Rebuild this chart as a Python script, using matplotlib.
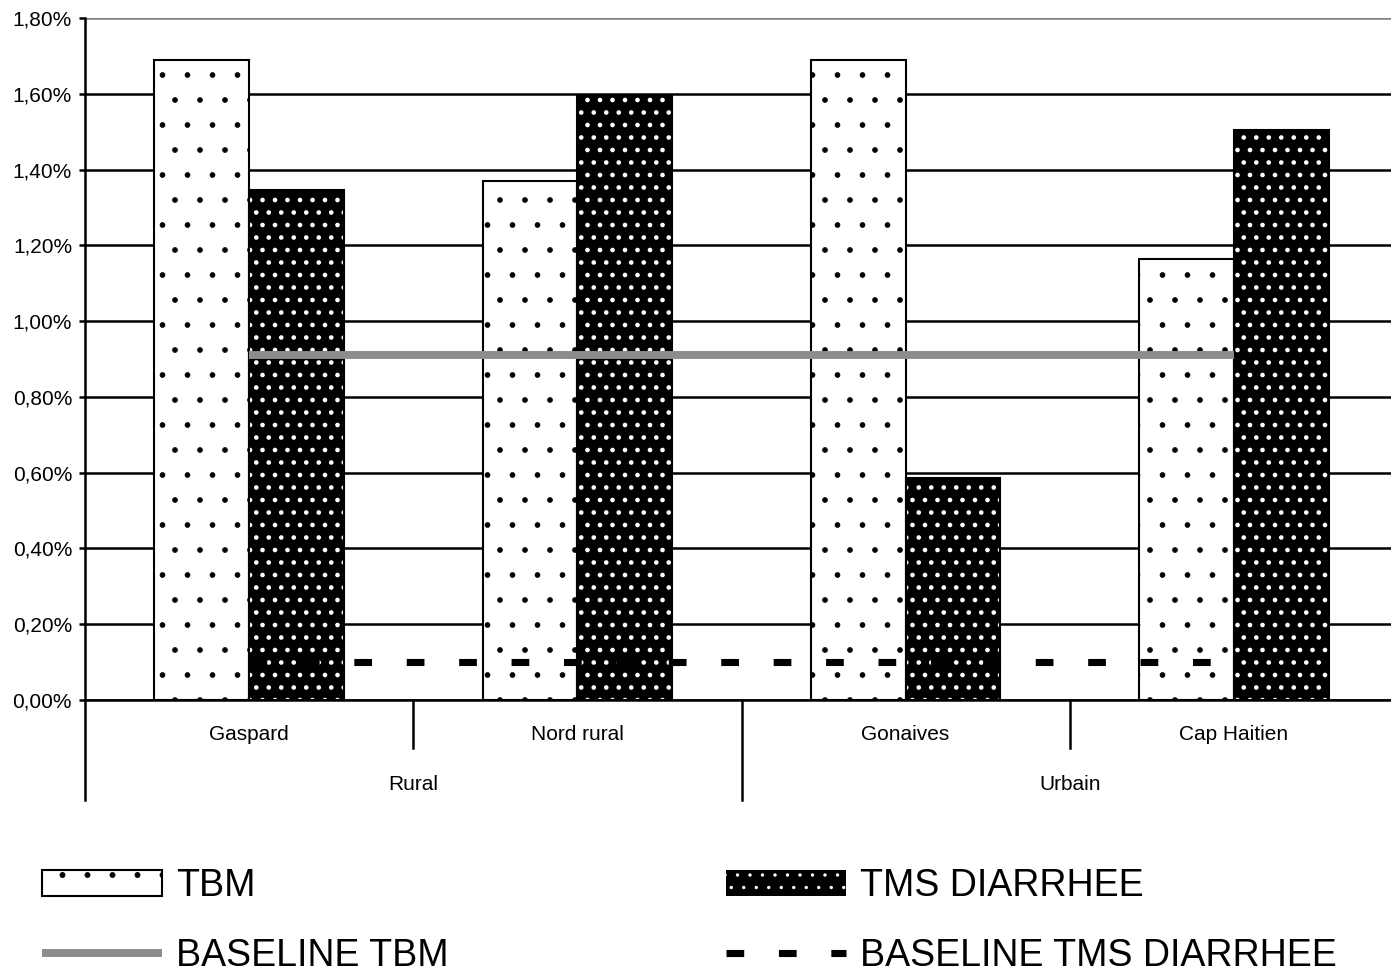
import matplotlib
matplotlib.use('Agg')
import matplotlib.pyplot as plt
import matplotlib.transforms as mtransforms
from matplotlib.patches import Patch
from matplotlib.lines import Line2D
from matplotlib.ticker import FuncFormatter
import numpy as np

plt.rcParams['font.family'] = ['Liberation Sans', 'DejaVu Sans']
plt.rcParams['hatch.linewidth'] = 0.4

# ---------------- data ----------------
categories = ['Gaspard', 'Nord rural', 'Gonaives', 'Cap Haitien']
groups = ['Rural', 'Urbain']
group_sizes = [2, 2]
tbm = [1.69, 1.37, 1.69, 1.165]
tms_diarrhee = [1.345, 1.595, 0.585, 1.505]
baseline_tbm = [0.91, 0.91, 0.91, 0.91]
baseline_tms = [0.10, 0.10, 0.10, 0.10]
yticks = [0.0, 0.2, 0.4, 0.6, 0.8, 1.0, 1.2, 1.4, 1.6, 1.8]
legend_labels = ['TBM', 'TMS DIARRHEE', 'BASELINE TBM', 'BASELINE TMS DIARRHEE']

TBM_HLW = 0.3
TMS_HLW = 1.0


def set_hlw(patches, lw):
    for p in patches:
        if hasattr(p, 'set_hatch_linewidth'):
            p.set_hatch_linewidth(lw)


# ---------------- figure ----------------
W, H, DPI = 1391, 977, 150
fig = plt.figure(figsize=(W / DPI, H / DPI), dpi=DPI)
ax = fig.add_axes([85 / W, 1 - 700 / H, 1313 / W, 682 / H])

x = np.arange(len(categories))
bw = 0.289
with plt.rc_context({'hatch.linewidth': TBM_HLW}):
    b1 = ax.bar(x - bw / 2, tbm, bw, facecolor='white', edgecolor='black',
                hatch='.', linewidth=1.0, zorder=2)
set_hlw(b1, TBM_HLW)
with plt.rc_context({'hatch.linewidth': TMS_HLW}):
    b2 = ax.bar(x + bw / 2, tms_diarrhee, bw, facecolor='black', edgecolor='white',
                hatch='..', linewidth=0, zorder=2)
set_hlw(b2, TMS_HLW)
ax.bar(x + bw / 2, tms_diarrhee, bw, facecolor='none', edgecolor='black',
       linewidth=1.0, zorder=2.1)

btbm_style = dict(color='#8c8c8c', lw=3.8, solid_capstyle='butt')
btms_style = dict(color='black', lw=3.4, ls=(0, (2.5, 4.9)), dash_capstyle='butt')
ax.plot(x, baseline_tbm, zorder=3, **btbm_style)
ax.plot(x, baseline_tms, zorder=3, **btms_style)

ax.set_xlim(-0.5, len(categories) - 0.5)
ax.set_ylim(0, 1.8)
ax.set_yticks(yticks)
ax.yaxis.set_major_formatter(FuncFormatter(lambda v, p: f"{v:.2f}%".replace('.', ',')))
ax.tick_params(axis='y', length=3, width=1.2, direction='out', pad=3.2,
               labelsize=10, colors='black')
ax.set_xticks([])
ax.yaxis.grid(True, color='black', lw=1.2)
ax.set_axisbelow(True)
ax.get_ygridlines()[-1].set_color('#808080')
for s in ['top', 'right']:
    ax.spines[s].set_visible(False)
ax.spines['left'].set_linewidth(1.2)
ax.spines['bottom'].set_linewidth(1.2)

# hierarchical category axis
trans = mtransforms.blended_transform_factory(ax.transData, ax.transAxes)
short_len = 48 / 682
long_len = 100 / 682
group_edges = np.concatenate([[0], np.cumsum(group_sizes)]) - 0.5
for b in np.arange(len(categories) + 1) - 0.5:
    ln = long_len if np.any(np.isclose(group_edges, b)) else short_len
    ax.plot([b, b], [0, -ln], transform=trans, clip_on=False, color='black', lw=1.2)
for i, c in enumerate(categories):
    ax.text(i, -34 / 682, c, transform=trans, ha='center', va='center', fontsize=10)
for g, (a, b) in enumerate(zip(group_edges[:-1], group_edges[1:])):
    ax.text((a + b) / 2, -84 / 682, groups[g], transform=trans,
            ha='center', va='center', fontsize=10)

# legends
with plt.rc_context({'hatch.linewidth': TBM_HLW}):
    h_tbm = Patch(facecolor='white', edgecolor='black', hatch='.', linewidth=1.0)
set_hlw([h_tbm], TBM_HLW)
with plt.rc_context({'hatch.linewidth': TMS_HLW}):
    h_tms = Patch(facecolor='black', edgecolor='white', hatch='..', linewidth=0)
set_hlw([h_tms], TMS_HLW)
h_btbm = Line2D([], [], **btbm_style)
h_btms = Line2D([], [], **btms_style)
leg_kw = dict(loc='upper left', frameon=False, fontsize=18, borderpad=0,
              borderaxespad=0, handlelength=3.2, handleheight=0.67,
              handletextpad=0.37, labelspacing=0.9)
fig.legend([h_tbm, h_btbm], [legend_labels[0], legend_labels[2]],
           bbox_to_anchor=(42 / W, 1 - 868 / H), **leg_kw)
fig.legend([h_tms, h_btms], [legend_labels[1], legend_labels[3]],
           bbox_to_anchor=(726 / W, 1 - 868 / H), **leg_kw)

fig.savefig('out.png', dpi=DPI)
